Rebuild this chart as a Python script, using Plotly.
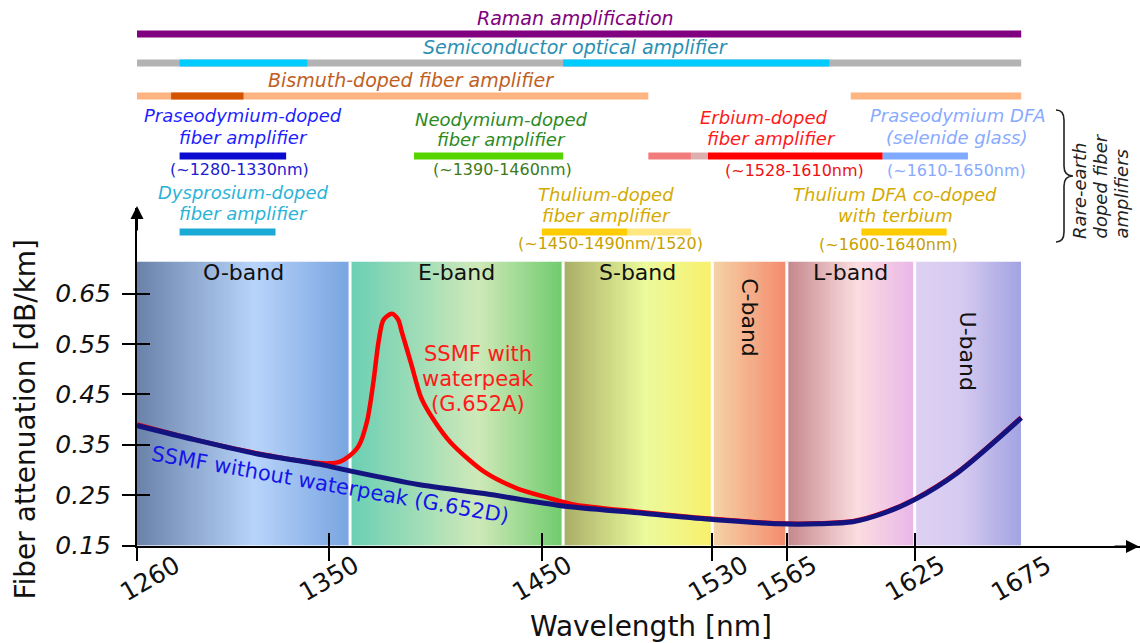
import numpy as np
import plotly.graph_objects as go

W, H = 1140, 643
FONT = "DejaVu Sans"

# ---------------- attenuation curves (wavelength in nm, dB/km) ----------------
wl_g652d = [1260, 1287, 1316, 1346, 1361, 1392, 1423, 1459, 1495, 1529, 1561,
            1580, 1596, 1611, 1625, 1645, 1675]
att_g652d = [0.388, 0.360, 0.332, 0.311, 0.297, 0.271, 0.253, 0.229, 0.215, 0.202, 0.193,
             0.193, 0.197, 0.215, 0.241, 0.294, 0.403]

wl_g652a = [1260, 1290, 1320, 1340, 1350, 1355, 1359.5, 1364, 1368, 1371, 1373.4, 1375.7,
            1379.6, 1382.6, 1384.2, 1388.8, 1393.4, 1399.6, 1407.3, 1422.7, 1438, 1452.8,
            1464, 1495, 1530, 1561, 1580, 1596, 1611, 1625, 1645, 1675]
att_g652a = [0.390, 0.357, 0.330, 0.316, 0.313, 0.316, 0.327, 0.347, 0.397, 0.476, 0.555, 0.598,
             0.610, 0.598, 0.575, 0.509, 0.443, 0.397, 0.354, 0.297, 0.264, 0.245,
             0.232, 0.217, 0.203, 0.194, 0.194, 0.198, 0.216, 0.242, 0.295, 0.404]

# ---------------- transmission bands ----------------
band_names = ["O-band", "E-band", "S-band", "C-band", "L-band", "U-band"]
band_edges = [1260, 1360, 1460, 1530, 1565, 1625, 1675]
band_stops = [
    [(0.0, "#6a82aa"), (0.55, "#b8d4fa"), (1.0, "#78a4e0")],
    [(0.0, "#6acfb4"), (0.6, "#cfe9b9"), (1.0, "#6fcb6c")],
    [(0.0, "#a8ad66"), (0.55, "#ebfa9c"), (1.0, "#f8f06c")],
    [(0.0, "#f5d4a8"), (1.0, "#f48a6c")],
    [(0.0, "#c4868a"), (0.55, "#fbdde0"), (1.0, "#e9b6e8")],
    [(0.0, "#ddd0f2"), (0.45, "#d5caf0"), (1.0, "#a2a3e3")],
]

# ---------------- axes ----------------
x_tick_vals = [1260, 1350, 1450, 1530, 1565, 1625]
x_tick_labels = [1260, 1350, 1450, 1530, 1565, 1625, 1675]
y_tick_vals = [0.15, 0.25, 0.35, 0.45, 0.55, 0.65]

# ---------------- amplifier gain windows (nm) ----------------
raman_span = [1260, 1675]
soa_span = [1260, 1675]
soa_gain = [[1280, 1340], [1460, 1585]]
bdfa_span = [[1260, 1500], [1595, 1675]]
bdfa_core = [1276, 1310]
pdfa_span = [1280, 1330]
ddfa_span = [1280, 1325]
ndfa_span = [1390, 1460]
tdfa_span = [1450, 1490, 1520]
edfa_span = [1500, 1520, 1528, 1610]
pdfa_se_span = [1610, 1650]
tdfa_tb_span = [1600, 1640]

# ---------------- helpers ----------------
X0_PX, Y0_PX, YTOP_PX = 137, 545.5, 208
PX_PER_NM = 2.1306
PX_PER_UNIT = 504.0
BAND_TOP = 0.713


def py(y):
    return 1 - y / H


def px(x):
    return x / W


def hex_rgb(h):
    h = h.lstrip("#")
    return tuple(int(h[i:i + 2], 16) for i in (0, 2, 4))


def band_color(w):
    n = len(band_names)
    for i in range(n):
        lo, hi = band_edges[i], band_edges[i + 1]
        if w <= hi or i == n - 1:
            t = (w - lo) / (hi - lo)
            stops = band_stops[i]
            for (t0, c0), (t1, c1) in zip(stops[:-1], stops[1:]):
                if t <= t1:
                    f = max(0.0, (t - t0) / (t1 - t0))
                    a, b = hex_rgb(c0), hex_rgb(c1)
                    return "rgb(%d,%d,%d)" % tuple(round(a[k] + (b[k] - a[k]) * f) for k in range(3))
            r, g, b = hex_rgb(stops[-1][1])
            return "rgb(%d,%d,%d)" % (r, g, b)


fig = go.Figure()

# gradient background of the bands
edges = np.arange(band_edges[0], band_edges[-1] + 0.5, 1.0)
centers = (edges[:-1] + edges[1:]) / 2
ncol = len(centers)
colorscale = [[i / (ncol - 1), band_color(c)] for i, c in enumerate(centers)]
fig.add_trace(go.Heatmap(
    x=edges, y=[0.15, BAND_TOP], z=[list(range(ncol))],
    colorscale=colorscale, zmin=0, zmax=ncol - 1,
    showscale=False, hoverinfo="skip"))

# white separators between bands
sep_x, sep_y = [], []
for b in band_edges[1:-1]:
    sep_x += [b, b, None]
    sep_y += [0.15, BAND_TOP, None]
fig.add_trace(go.Scatter(x=sep_x, y=sep_y, mode="lines",
                         line=dict(color="white", width=3), hoverinfo="skip"))

# attenuation curves
fig.add_trace(go.Scatter(x=wl_g652a, y=att_g652a, mode="lines",
                         line=dict(color="#ff0000", width=4.5, shape="spline", smoothing=0.8),
                         hoverinfo="skip"))
fig.add_trace(go.Scatter(x=wl_g652d, y=att_g652d, mode="lines",
                         line=dict(color="#141480", width=5, shape="spline", smoothing=0.8),
                         hoverinfo="skip"))

# invisible trace carrying the overlay axes (inner tick marks)
fig.add_trace(go.Scatter(x=[1260], y=[0.15], xaxis="x2", yaxis="y2", mode="markers",
                         marker=dict(opacity=0), hoverinfo="skip"))

shapes = []
annotations = []


def note(t, x, y, size, color, xref="paper", yref="paper", italic=False, angle=0, **kw):
    d = dict(text=t, x=x, y=y, xref=xref, yref=yref, showarrow=False,
             xanchor="center", yanchor="middle", textangle=angle,
             font=dict(family=FONT, size=size, color=color,
                       style="italic" if italic else "normal"))
    d.update(kw)
    annotations.append(d)


def bar(x0, x1, ypix, color, width=7):
    shapes.append(dict(type="line", xref="x", yref="paper", x0=x0, x1=x1,
                       y0=py(ypix), y1=py(ypix), line=dict(color=color, width=width)))


def text(t, xpix, ypix, color, size=18, italic=True):
    note(t, px(xpix), py(ypix), size, color, italic=italic)


# amplifier bars
bar(raman_span[0], raman_span[1], 34, "#800080")
bar(soa_span[0], soa_span[1], 63, "#b3b3b3")
for a, b in soa_gain:
    bar(a, b, 63, "#00ccff")
for a, b in bdfa_span:
    bar(a, b, 96, "#ffb380")
bar(bdfa_core[0], bdfa_core[1], 96, "#d45500")
bar(pdfa_span[0], pdfa_span[1], 156, "#0a0ad0")
bar(ndfa_span[0], ndfa_span[1], 156, "#55d400")
bar(edfa_span[0], edfa_span[1], 156, "#f27c7c")
bar(edfa_span[1], edfa_span[2], 156, "#ddb0b0")
bar(edfa_span[2], edfa_span[3], 156, "#ff0000")
bar(pdfa_se_span[0], pdfa_se_span[1], 156, "#80aaff")
bar(ddfa_span[0], ddfa_span[1], 232, "#1ba9d6")
bar(tdfa_span[0], tdfa_span[1], 232, "#ffcc00")
bar(tdfa_span[1], tdfa_span[2], 232, "#ffe680")
bar(tdfa_tb_span[0], tdfa_tb_span[1], 232, "#ffcc00")

# amplifier captions
text("Raman amplification", 575, 18, "#800080", 19)
text("Semiconductor optical amplifier", 575, 47, "#2b8fb3", 19)
text("Bismuth-doped fiber amplifier", 411, 80, "#c0601f", 19)
text("Praseodymium-doped", 243, 116, "#1e1eff")
text("fiber amplifier", 243, 137, "#1e1eff")
text("(~%d-%dnm)" % tuple(pdfa_span), 239, 169, "#2020d0", 16, False)
text("Dysprosium-doped", 243, 192, "#2bb3d8")
text("fiber amplifier", 243, 213, "#2bb3d8")
text("Neodymium-doped", 501, 119, "#2d8a1f")
text("fiber amplifier", 501, 140, "#2d8a1f")
text("(~%d-%dnm)" % tuple(ndfa_span), 502, 170, "#3d7a1a", 16, False)
text("Thulium-doped", 606, 194, "#d4aa00")
text("fiber amplifier", 606, 215, "#d4aa00")
text("(~%d-%dnm/%d)" % tuple(tdfa_span), 610, 243, "#c8a000", 16, False)
text("Erbium-doped", 764, 117, "#ff1a1a")
text("fiber amplifier", 771, 138, "#ff1a1a")
text("(~%d-%dnm)" % (edfa_span[2], edfa_span[3]), 795, 171, "#ee1111", 16, False)
text("Praseodymium DFA", 958, 116, "#88aaff")
text("(selenide glass)", 957, 137, "#88aaff")
text("(~%d-%dnm)" % tuple(pdfa_se_span), 957, 171, "#88aaff", 16, False)
text("Thulium DFA co-doped", 895, 195, "#d4aa00")
text("with terbium", 895, 216, "#d4aa00")
text("(~%d-%dnm)" % tuple(tdfa_tb_span), 888, 244, "#c8a000", 16, False)

# brace and its rotated caption
brace_pts = "M {a},{b} Q {c},{b} {c},{d} L {c},{e} Q {c},{f} {g},{f} Q {c},{f} {c},{h} L {c},{i} Q {c},{j} {a},{j}"
bx0, bx1, btip = 1056, 1064, 1073
by = [110, 120, 166, 176, 186, 232, 242]
shapes.append(dict(
    type="path", xref="paper", yref="paper",
    path=brace_pts.format(a=px(bx0), b=py(by[0]), c=px(bx1), d=py(by[1]), e=py(by[2]),
                          f=py(by[3]), g=px(btip), h=py(by[4]), i=py(by[5]), j=py(by[6])),
    line=dict(color="#222222", width=1.6)))
for line_txt, xl in [("Rare-earth", 1079), ("doped fiber", 1100), ("amplifiers", 1121)]:
    note(line_txt, px(xl), py(241), 18, "#222222", italic=True, angle=-90, yanchor="bottom")

# band labels
for i, name in enumerate(band_names):
    cx = (band_edges[i] + band_edges[i + 1]) / 2
    if name == "C-band":
        note(name, cx, 0.602, 22, "#111", xref="x", yref="y", angle=90)
    elif name == "U-band":
        note(name, cx, 0.535, 22, "#111", xref="x", yref="y", angle=90)
    else:
        note(name, cx, 0.692, 22, "#111", xref="x", yref="y")

# curve labels
for t, yv in [("SSMF with", 0.530), ("waterpeak", 0.4805), ("(G.652A)", 0.431)]:
    note(t, 1420, yv, 21, "#ff1a1a", xref="x", yref="y")
note("SSMF without waterpeak (G.652D)", 1351, 0.271, 21, "#1515e8",
     xref="x", yref="y", angle=10)

# x tick labels (rotated)
for v in x_tick_labels:
    note(str(v), v, py(578), 25, "#111", xref="x", angle=-30,
         xshift=13 if v == 1260 else (6 if v == 1530 else 0))

# axis titles
note("Wavelength [nm]", px(651), py(626), 28, "#111")
note("Fiber attenuation [dB/km]", px(25), py(419.5), 28, "#111", angle=-90)

# axis arrow heads
annotations.append(dict(text="", x=px(X0_PX), y=py(YTOP_PX - 2), xref="paper", yref="paper",
                        showarrow=True, ax=0, ay=26, arrowhead=2, arrowsize=1.3,
                        arrowwidth=2, arrowcolor="black"))
annotations.append(dict(text="", x=px(W - 1), y=py(Y0_PX + 1), xref="paper", yref="paper",
                        showarrow=True, ax=-26, ay=0, arrowhead=2, arrowsize=1.3,
                        arrowwidth=2, arrowcolor="black"))

x_range = [band_edges[0], band_edges[0] + (W - X0_PX) / PX_PER_NM]
y_range = [0.15, 0.15 + (Y0_PX - YTOP_PX) / PX_PER_UNIT]
x_dom = [X0_PX / W, 1.0]
y_dom = [py(Y0_PX), py(YTOP_PX)]

axis_common = dict(showgrid=False, zeroline=False, fixedrange=True, automargin=False)
fig.update_layout(
    width=W, height=H, margin=dict(l=0, r=0, t=0, b=0, pad=0, autoexpand=False),
    paper_bgcolor="white", plot_bgcolor="rgba(0,0,0,0)",
    showlegend=False, hovermode=False,
    font=dict(family=FONT, color="#111"),
    xaxis=dict(domain=x_dom, range=x_range, showline=True, linecolor="black", linewidth=2,
               ticks="outside", ticklen=13, tickwidth=2, tickcolor="black",
               tickvals=x_tick_vals, showticklabels=False, anchor="y", **axis_common),
    yaxis=dict(domain=y_dom, range=y_range, showline=True, linecolor="black", linewidth=2,
               ticks="outside", ticklen=13, tickwidth=2, tickcolor="black",
               tickvals=y_tick_vals, ticktext=["%.2f" % v for v in y_tick_vals],
               tickfont=dict(family=FONT, size=25, color="#111", style="italic"),
               ticklabelstandoff=6, anchor="x", **axis_common),
    xaxis2=dict(overlaying="x", range=x_range, anchor="y2", ticks="inside", ticklen=13,
                tickwidth=2, tickcolor="black", tickvals=x_tick_vals, showticklabels=False,
                showline=False, **axis_common),
    yaxis2=dict(overlaying="y", range=y_range, anchor="x2", ticks="inside", ticklen=13,
                tickwidth=2, tickcolor="black", tickvals=y_tick_vals, showticklabels=False,
                showline=False, **axis_common),
    shapes=shapes, annotations=annotations,
)

fig.write_html("out.html")
